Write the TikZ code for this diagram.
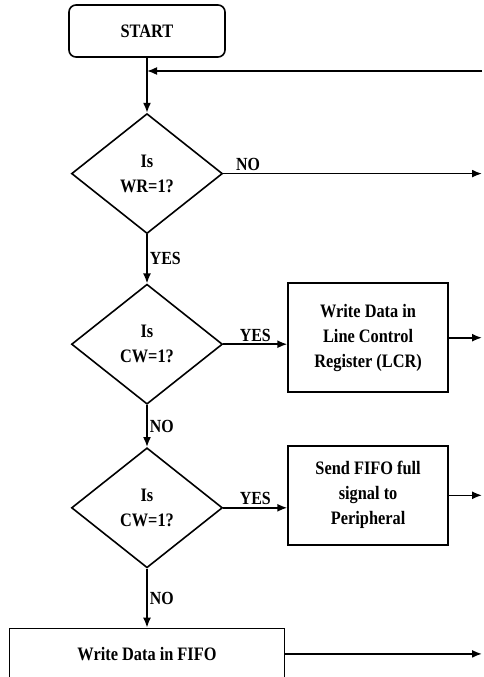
\documentclass[tikz,border=0pt]{standalone}
\usepackage{fontspec}
\setmainfont{Liberation Serif}[FakeStretch=0.86]
\usetikzlibrary{arrows.meta,positioning,shapes.geometric}

\begin{document}
\begin{tikzpicture}[
  font=\bfseries\fontsize{19}{25}\selectfont,
  term/.style={draw,line width=1.6pt,rounded corners=7pt,minimum width=156pt,minimum height=52pt,inner sep=0pt},
  test/.style={draw,line width=1.6pt,diamond,aspect=1.26,minimum width=151pt,minimum height=120pt,inner sep=0pt,align=center},
  task/.style={draw,line width=1.6pt,minimum width=160pt,inner sep=0pt,align=center},
  flow/.style={->,line width=1.6pt},
  tag/.style={inner sep=2pt,font=\bfseries\fontsize{18.5}{20}\selectfont},
  >={Latex[length=10pt,width=8pt]},node distance=55pt and 64pt]
  \useasboundingbox (0,0) rectangle (483pt,-677pt);
  \coordinate (rim) at (482pt,0);
  \coordinate (back) at (482pt,-71pt);

  \node[term] (start) at (147pt,-31pt) {START};
  \node[test,below=55pt of start] (wr) {Is\\WR=1?};
  \node[test,below=49pt of wr] (cw) {Is\\CW=1?};
  \node[test,below=42pt of cw] (full) {Is\\CW=1?};
  \node[task,minimum height=109pt,right=64pt of cw,yshift=6.5pt] (lcr) {Write Data in\\Line Control\\Register (LCR)};
  \node[task,minimum height=99pt,right=64pt of full,yshift=12.5pt] (sig) {Send FIFO full\\signal to\\Peripheral};
  \node[task,minimum width=275pt,minimum height=51pt,below=59pt of full] (fifo) {Write Data in FIFO};

  \draw[flow] (start) -- (wr);
  \draw[flow] (back) -- (back -| start);
  \draw[flow] (wr.east) -- (wr.east -| rim) node[tag,pos=0,anchor=south west,xshift=10pt] {NO};
  \draw[flow] (wr) -- (cw) node[tag,midway,right] {YES};
  \draw[flow] (cw.east) -- (cw.east -| lcr.west) node[tag,midway,above] {YES};
  \draw[flow] (lcr.east) -- (lcr.east -| rim);
  \draw[flow] (cw) -- (full) node[tag,midway,right] {NO};
  \draw[flow] (full.east) -- (full.east -| sig.west) node[tag,midway,above] {YES};
  \draw[flow] (sig.east) -- (sig.east -| rim);
  \draw[flow] (full) -- (fifo) node[tag,midway,right] {NO};
  \draw[flow] (fifo.east) -- (fifo.east -| rim);
\end{tikzpicture}
\end{document}
